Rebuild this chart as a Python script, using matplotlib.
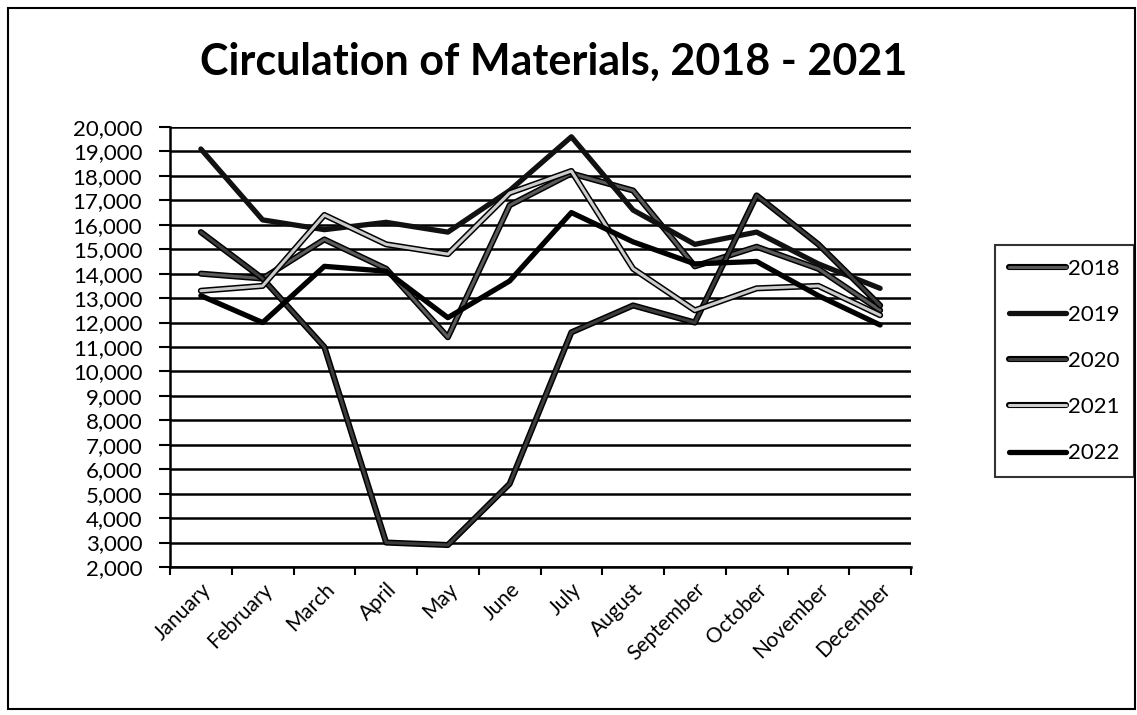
#!/usr/bin/python3
# -*- coding: utf-8 -*-
# Circulation of materials, monthly line chart (scanned Excel look)

import matplotlib
matplotlib.use("Agg")
import matplotlib.pyplot as plt
import matplotlib.patheffects as pe
from matplotlib.ticker import FuncFormatter, MultipleLocator, FixedLocator

### Data

months = ["January", "February", "March", "April", "May", "June",
          "July", "August", "September", "October", "November", "December"]

y2018 = [14000, 13800, 15400, 14200, 11400, 16800, 18100, 17400, 14300, 15100, 14200, 12500]
y2019 = [19100, 16200, 15800, 16100, 15700, 17400, 19600, 16600, 15200, 15700, 14400, 13400]
y2020 = [15700, 13800, 11000, 3000, 2900, 5400, 11600, 12700, 12000, 17200, 15200, 12700]
y2021 = [13300, 13500, 16400, 15200, 14800, 17300, 18200, 14200, 12500, 13400, 13500, 12300]
y2022 = [13100, 12000, 14300, 14100, 12200, 13700, 16500, 15300, 14400, 14500, 13100, 11900]

years = ["2018", "2019", "2020", "2021", "2022"]
series = [y2018, y2019, y2020, y2021, y2022]

title = "Circulation of Materials, 2018 - 2021"

### Styles (grey scan: outlined lines with a lighter core for some years)

inner = ["#5a5a5a", "#111111", "#3c3c3c", "#cccccc", "#000000"]
outline = [True, False, True, True, False]

plt.rcParams['font.family'] = ['Lato', 'DejaVu Sans']

fig = plt.figure(figsize=(11.37, 7.15), dpi=100)
W, H = 1137., 715.
ax = fig.add_axes([170/W, 1 - 567/H, (911 - 170)/W, (567 - 127)/H])

x = list(range(len(months)))
for name, vals, col, out in zip(years, series, inner, outline):
    if out:
        ax.plot(x, vals, color=col, lw=2.2, label=name, solid_capstyle='round',
                path_effects=[pe.Stroke(linewidth=4.4, foreground='black'), pe.Normal()])
    else:
        ax.plot(x, vals, color=col, lw=3.8, label=name, solid_capstyle='round')

### Axes

ax.set_xlim(-0.5, len(months) - 0.5)
ax.set_ylim(2000, 20000)
ax.yaxis.set_major_locator(MultipleLocator(1000))
ax.yaxis.set_major_formatter(FuncFormatter(lambda v, i: "{:,.0f}".format(v)))
ax.set_xticks(x)
ax.set_xticklabels(months, rotation=45, ha='right', rotation_mode='anchor')
ax.xaxis.set_minor_locator(FixedLocator([i - 0.5 for i in range(len(months) + 1)]))
ax.tick_params(axis='x', which='major', length=0, labelsize=15, pad=9)
ax.tick_params(axis='x', which='minor', length=6, width=1.5, direction='out')
ax.tick_params(axis='y', which='major', length=8, width=1.5, labelsize=16, pad=12)

ax.grid(True, axis='y', color='black', lw=1.8)
ax.set_axisbelow(True)
for s in ['top', 'right']:
    ax.spines[s].set_visible(False)
for s in ['left', 'bottom']:
    ax.spines[s].set_linewidth(1.8)

fig.text(0.5 * (198 + 910) / W, 1 - 62/H, title, ha='center', va='center',
         fontsize=31, fontweight='bold')

### Legend

leg = fig.legend(loc='center left', bbox_to_anchor=(995/W, 1 - 361/H),
                 fontsize=16, handlelength=2.55, handletextpad=0.1,
                 labelspacing=1.18, borderpad=0.63, borderaxespad=0,
                 frameon=True, fancybox=False)
leg.get_frame().set_edgecolor('black')
leg.get_frame().set_linewidth(1.5)

### Chart border

fig.patches.append(plt.Rectangle((8/W, 6/H), 1 - 10/W, 1 - 14/H, transform=fig.transFigure,
                                 fill=False, edgecolor='black', lw=1.5))

fig.savefig("out.png", dpi=100)
